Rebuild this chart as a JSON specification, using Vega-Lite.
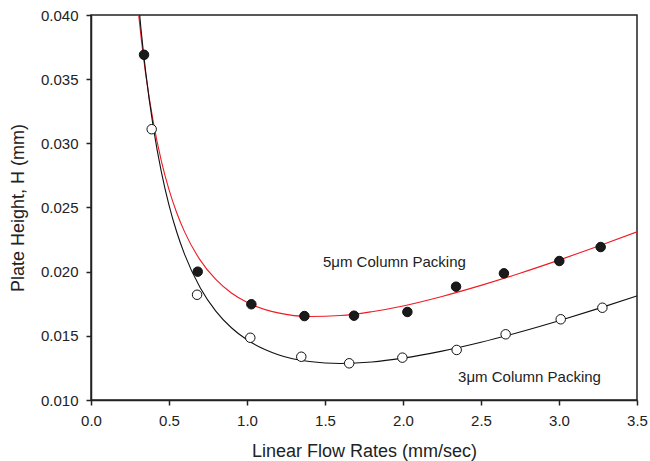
{
  "$schema": "https://vega.github.io/schema/vega-lite/v6.json",
  "width": 546,
  "height": 385,
  "autosize": "none",
  "padding": {"left": 91, "top": 15, "right": 13, "bottom": 61},
  "background": "white",
  "config": {
    "font": "Liberation Sans",
    "view": {"stroke": "#222222", "strokeWidth": 1.5},
    "axis": {
      "grid": false,
      "domainColor": "#222222",
      "domainWidth": 1.5,
      "tickColor": "#222222",
      "tickWidth": 1.5,
      "tickSize": 5,
      "labelFontSize": 15,
      "labelColor": "#222222",
      "labelPadding": 8,
      "labelFlush": false,
      "labelOverlap": false,
      "titleFontSize": 18,
      "titleFontWeight": "normal",
      "titleColor": "#222222"
    }
  },
  "datasets": {
    "curves": [
      {"series": "5μm", "u": 0.30, "h": 0.04067},
      {"series": "5μm", "u": 0.32, "h": 0.03837},
      {"series": "5μm", "u": 0.35, "h": 0.03545},
      {"series": "5μm", "u": 0.40, "h": 0.03161},
      {"series": "5μm", "u": 0.45, "h": 0.02868},
      {"series": "5μm", "u": 0.50, "h": 0.02639},
      {"series": "5μm", "u": 0.55, "h": 0.02457},
      {"series": "5μm", "u": 0.60, "h": 0.02310},
      {"series": "5μm", "u": 0.70, "h": 0.02090},
      {"series": "5μm", "u": 0.80, "h": 0.01939},
      {"series": "5μm", "u": 0.90, "h": 0.01834},
      {"series": "5μm", "u": 1.00, "h": 0.01761},
      {"series": "5μm", "u": 1.20, "h": 0.01679},
      {"series": "5μm", "u": 1.40, "h": 0.01651},
      {"series": "5μm", "u": 1.60, "h": 0.01658},
      {"series": "5μm", "u": 1.80, "h": 0.01688},
      {"series": "5μm", "u": 2.00, "h": 0.01733},
      {"series": "5μm", "u": 2.25, "h": 0.01807},
      {"series": "5μm", "u": 2.50, "h": 0.01893},
      {"series": "5μm", "u": 2.75, "h": 0.01988},
      {"series": "5μm", "u": 3.00, "h": 0.02090},
      {"series": "5μm", "u": 3.25, "h": 0.02198},
      {"series": "5μm", "u": 3.50, "h": 0.02310},
      {"series": "3μm", "u": 0.30, "h": 0.04158},
      {"series": "3μm", "u": 0.32, "h": 0.03896},
      {"series": "3μm", "u": 0.35, "h": 0.03561},
      {"series": "3μm", "u": 0.40, "h": 0.03121},
      {"series": "3μm", "u": 0.45, "h": 0.02784},
      {"series": "3μm", "u": 0.50, "h": 0.02519},
      {"series": "3μm", "u": 0.55, "h": 0.02307},
      {"series": "3μm", "u": 0.60, "h": 0.02135},
      {"series": "3μm", "u": 0.70, "h": 0.01875},
      {"series": "3μm", "u": 0.80, "h": 0.01693},
      {"series": "3μm", "u": 0.90, "h": 0.01563},
      {"series": "3μm", "u": 1.00, "h": 0.01469},
      {"series": "3μm", "u": 1.20, "h": 0.01353},
      {"series": "3μm", "u": 1.40, "h": 0.01300},
      {"series": "3μm", "u": 1.60, "h": 0.01285},
      {"series": "3μm", "u": 1.80, "h": 0.01296},
      {"series": "3μm", "u": 2.00, "h": 0.01326},
      {"series": "3μm", "u": 2.25, "h": 0.01381},
      {"series": "3μm", "u": 2.50, "h": 0.01450},
      {"series": "3μm", "u": 2.75, "h": 0.01530},
      {"series": "3μm", "u": 3.00, "h": 0.01618},
      {"series": "3μm", "u": 3.25, "h": 0.01712},
      {"series": "3μm", "u": 3.50, "h": 0.01811}
    ],
    "points": [
      {"series": "5μm", "u": 0.340, "h": 0.0369},
      {"series": "5μm", "u": 0.684, "h": 0.0200},
      {"series": "5μm", "u": 1.028, "h": 0.01746},
      {"series": "5μm", "u": 1.368, "h": 0.01654},
      {"series": "5μm", "u": 1.686, "h": 0.01657},
      {"series": "5μm", "u": 2.028, "h": 0.01686},
      {"series": "5μm", "u": 2.340, "h": 0.01883},
      {"series": "5μm", "u": 2.647, "h": 0.01987},
      {"series": "5μm", "u": 3.002, "h": 0.02083},
      {"series": "5μm", "u": 3.267, "h": 0.02192},
      {"series": "3μm", "u": 0.389, "h": 0.0311},
      {"series": "3μm", "u": 0.680, "h": 0.0182},
      {"series": "3μm", "u": 1.021, "h": 0.01485},
      {"series": "3μm", "u": 1.348, "h": 0.01337},
      {"series": "3μm", "u": 1.655, "h": 0.01286},
      {"series": "3μm", "u": 1.996, "h": 0.0133},
      {"series": "3μm", "u": 2.344, "h": 0.0139},
      {"series": "3μm", "u": 2.658, "h": 0.01512},
      {"series": "3μm", "u": 3.011, "h": 0.01629},
      {"series": "3μm", "u": 3.278, "h": 0.01719}
    ],
    "labels": [
      {"text": "5μm Column Packing", "u": 1.487, "h": 0.02075},
      {"text": "3μm Column Packing", "u": 2.353, "h": 0.01179}
    ]
  },
  "layer": [
    {
      "data": {"name": "curves"},
      "mark": {"type": "line", "clip": true, "strokeWidth": 1.1, "interpolate": "monotone"},
      "encoding": {
        "x": {"field": "u", "type": "quantitative", "scale": {"domain": [0, 3.5], "nice": false, "zero": false},
          "axis": {"title": "Linear Flow Rates (mm/sec)", "values": [0, 0.5, 1, 1.5, 2, 2.5, 3, 3.5], "format": ".1f", "titlePadding": 14}},
        "y": {"field": "h", "type": "quantitative", "scale": {"domain": [0.01, 0.04], "nice": false, "zero": false},
          "axis": {"title": "Plate Height, H (mm)", "values": [0.01, 0.015, 0.02, 0.025, 0.03, 0.035, 0.04], "format": ".3f", "titlePadding": 13}},
        "color": {"field": "series", "type": "nominal", "scale": {"domain": ["5μm", "3μm"], "range": ["#ee1c25", "#111111"]}, "legend": null}
      }
    },
    {
      "data": {"name": "points"},
      "mark": {"type": "point", "shape": "circle", "filled": false, "size": 90, "strokeWidth": 1, "stroke": "#111111", "opacity": 1},
      "encoding": {
        "x": {"field": "u", "type": "quantitative"},
        "y": {"field": "h", "type": "quantitative"},
        "fill": {"field": "series", "type": "nominal", "scale": {"domain": ["5μm", "3μm"], "range": ["#1a1a1a", "#ffffff"]}, "legend": null}
      }
    },
    {
      "data": {"name": "labels"},
      "mark": {"type": "text", "align": "left", "baseline": "middle", "fontSize": 15, "color": "#222222"},
      "encoding": {
        "x": {"field": "u", "type": "quantitative"},
        "y": {"field": "h", "type": "quantitative"},
        "text": {"field": "text"}
      }
    }
  ]
}
